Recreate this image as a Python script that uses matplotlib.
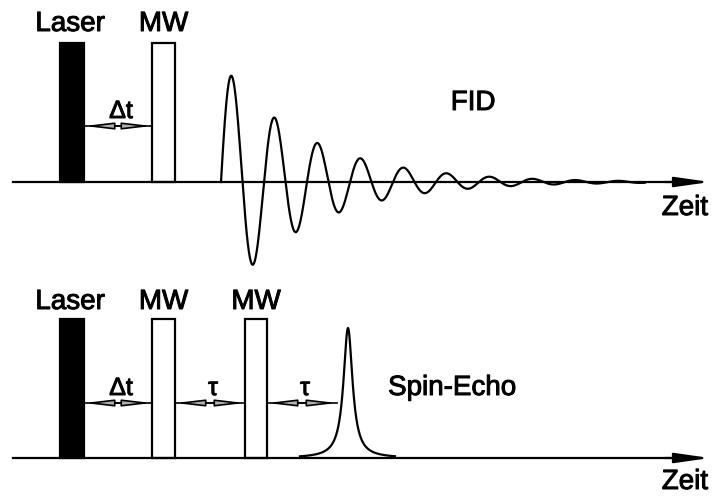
import numpy as np
import matplotlib.pyplot as plt
import matplotlib.patheffects as pe
from matplotlib.patches import Rectangle

# --- schematic data (pixel units of the original drawing) ---
laser_x = [60, 84]                 # laser pulse left/right edge
mw_top_x = [[152, 175]]            # MW pulses, FID sequence
mw_bot_x = [[152, 175], [245, 267]]  # MW pulses, spin-echo sequence
pulse_top = [43, 319]              # top edge of pulses (upper, lower)
baseline_y = [182, 458]            # time axes
axis_x = [13, 710]

# FID: damped oscillation
fid_start = 221
fid_end = 645
fid_period = 43
fid_decay = 86
fid_amp = 120

# spin echo: lorentzian peak
echo_center = 348
echo_height = 130
echo_hwhm = 5.5
echo_range = [300, 395]

gap_labels_top = ["\u0394t"]
gap_labels_bot = ["\u0394t", "\u03c4", "\u03c4"]

plt.rcParams['font.family'] = ['Liberation Sans', 'DejaVu Sans']

fig = plt.figure(figsize=(7.12, 4.99), dpi=100)
ax = fig.add_axes([0, 0, 1, 1])
ax.set_xlim(0, 712)
ax.set_ylim(499, 0)
ax.axis('off')

lw = 1.6
thick = [pe.withStroke(linewidth=0.7, foreground='black')]


def label(x, y, s, size=20, **kw):
    ax.text(x, y, s, fontsize=size, va='center', path_effects=thick, **kw)


def time_axis(y):
    ax.plot([axis_x[0], axis_x[1] - 40], [y, y], color='black', lw=lw)
    ax.annotate('', xy=(axis_x[1], y), xytext=(axis_x[1] - 45, y),
                arrowprops=dict(arrowstyle='-|>,head_length=2.1,head_width=0.3',
                                color='black', lw=lw, shrinkA=0, shrinkB=0))


def gap_arrow(x0, x1, y, s):
    ax.annotate('', xy=(x0, y), xytext=(x1, y),
                arrowprops=dict(arrowstyle='<|-|>,head_length=1.7,head_width=0.2',
                                fc='#b0b0b0', ec='black', lw=1.2,
                                shrinkA=0, shrinkB=0))
    ax.plot([x0, x1], [y, y], color='black', lw=1.2)
    label((x0 + x1) / 2 + 3, y - 15, s, size=18, ha='center')


def pulses(top, base, mws, dy):
    ax.add_patch(Rectangle((laser_x[0], top), laser_x[1] - laser_x[0],
                           base - top, fc='black', ec='black', lw=lw))
    label(np.mean(laser_x) - 2, top - dy, 'Laser', ha='center')
    for x0, x1 in mws:
        ax.add_patch(Rectangle((x0, top), x1 - x0, base - top,
                               fc='white', ec='black', lw=lw))
        label((x0 + x1) / 2, top - dy, 'MW', ha='center')


# upper panel: FID
time_axis(baseline_y[0])
pulses(pulse_top[0], baseline_y[0], mw_top_x, 19)
gap_arrow(laser_x[1], mw_top_x[0][0], 126, gap_labels_top[0])

x = np.linspace(fid_start, fid_end, 1200)
t = x - fid_start
fid = fid_amp * np.exp(-t / fid_decay) * np.sin(2 * np.pi * t / fid_period)
ax.plot(x, baseline_y[0] - fid, color='black', lw=lw)
label(473, 103, 'FID', ha='center')
label(708, 208, 'Zeit', ha='right')

# lower panel: spin echo
time_axis(baseline_y[1])
pulses(pulse_top[1], baseline_y[1], mw_bot_x, 17)
edges = [laser_x[1], mw_bot_x[0][0], mw_bot_x[0][1], mw_bot_x[1][0],
         mw_bot_x[1][1], 337]
for i, s in enumerate(gap_labels_bot):
    gap_arrow(edges[2 * i], edges[2 * i + 1], 403, s)

xe = np.linspace(echo_range[0], echo_range[1], 600)
echo = echo_height / (1 + ((xe - echo_center) / echo_hwhm) ** 2)
ax.plot(xe, baseline_y[1] - echo, color='black', lw=lw)
label(452, 388, 'Spin-Echo', ha='center')
label(708, 482, 'Zeit', ha='right')

fig.savefig('out.png', dpi=100)
